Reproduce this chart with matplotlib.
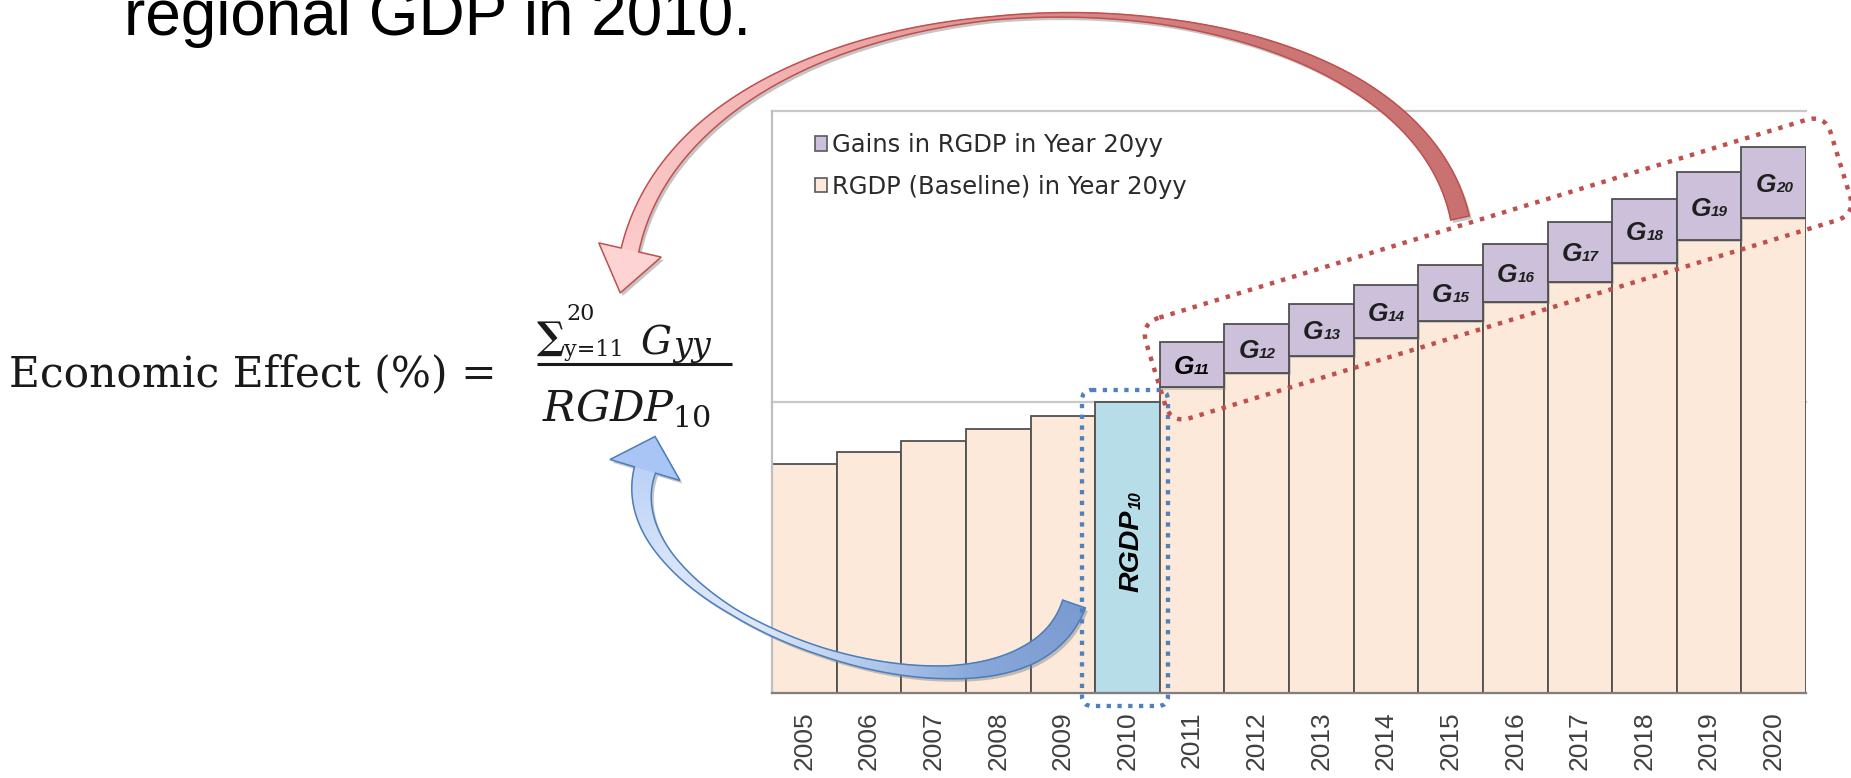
import numpy as np
import matplotlib
matplotlib.use("Agg")
import matplotlib.pyplot as plt
from matplotlib.patches import Patch, Polygon, FancyBboxPatch
from matplotlib.collections import PolyCollection
from matplotlib.colors import LinearSegmentedColormap
from matplotlib.transforms import Affine2D
import matplotlib.patheffects as pe

plt.rcParams['mathtext.fontset'] = 'dejavuserif'

# regional GDP, index with 2010 = 100
years = list(range(2005, 2021))
baseline_rgdp = [78.6, 82.7, 86.6, 90.8, 95.2, 100.0, 105.0, 110.1,
                 115.9, 121.9, 127.9, 134.5, 141.1, 147.9, 155.7, 163.1]
gain_years = list(range(2011, 2021))
gains_rgdp = [15.7, 16.7, 17.7, 18.3, 19.2, 19.7, 20.9, 22.0, 23.2, 24.6]
legend_labels = ['Gains in RGDP in Year 20yy', 'RGDP (Baseline) in Year 20yy']

BASE_COL = '#fde9d9'
GAIN_COL = '#ccc0da'
REF_COL = '#b7dde8'
EDGE_COL = '#505050'
SERIF = ['DejaVu Serif', 'DejaVu Sans']

W, H = 1851, 778
fig = plt.figure(figsize=(W / 100, H / 100), dpi=100)
fig.patch.set_facecolor('white')

# ---- bar chart ----
ax = fig.add_axes([772 / W, 85 / H, 1034 / W, 582 / H])
x = np.arange(len(years))
shadow = [pe.SimplePatchShadow(offset=(1.5, -1.5), shadow_rgbFace='#808080', alpha=0.35), pe.Normal()]
base_cols = [REF_COL if y == 2010 else BASE_COL for y in years]
ax.bar(x, baseline_rgdp, width=1.0, color=base_cols, edgecolor=EDGE_COL,
       linewidth=1.3, zorder=2, path_effects=shadow)
gx = np.array([years.index(y) for y in gain_years])
gbottom = [baseline_rgdp[i] for i in gx]
ax.bar(gx, gains_rgdp, bottom=gbottom, width=1.0, color=GAIN_COL,
       edgecolor=EDGE_COL, linewidth=1.3, zorder=2, path_effects=shadow)

ax.set_xlim(-0.5, len(years) - 0.5)
ax.set_ylim(0, 200)
ax.set_yticks([0, 100, 200])
ax.set_yticklabels([])
ax.yaxis.grid(True, color='#c8c8c8', linewidth=1.6)
for gl in ax.get_ygridlines():
    gl.set_clip_on(False)
ax.set_axisbelow(True)
ax.set_xticks(x)
ax.set_xticklabels([str(y) for y in years], rotation=90, fontsize=19,
                   color='#404040', family='Liberation Sans')
ax.tick_params(axis='both', length=0)
ax.tick_params(axis='x', pad=13.5)
for s in ['top', 'right']:
    ax.spines[s].set_visible(False)
ax.spines['left'].set_color('#bfbfbf')
ax.spines['left'].set_linewidth(1.6)
ax.spines['bottom'].set_color('#7f7f7f')
ax.spines['bottom'].set_linewidth(1.6)
ax.spines['bottom'].set_zorder(3)

# G_yy labels in the gain segments
for i, yr in enumerate(gain_years):
    xi = gx[i]
    ymid = gbottom[i] + gains_rgdp[i] / 2
    col = 'black' if i == 0 else '#1f1f1f'
    ax.annotate('G', (xi, ymid), xytext=(1.5, -6.8), textcoords='offset points',
                ha='right', va='baseline', fontsize=19, fontweight='bold',
                fontstyle='italic', family='Liberation Sans', color=col, zorder=4)
    ax.annotate(str(yr)[2:], (xi, ymid), xytext=(1.5, -6.8), textcoords='offset points',
                ha='left', va='baseline', fontsize=11, fontweight='bold',
                fontstyle='italic', family='Liberation Sans', color=col, zorder=4)

# RGDP_10 label inside the 2010 bar
i10 = years.index(2010)
ax.annotate('RGDP', (i10, baseline_rgdp[i10] / 2), xytext=(8.3, -32.0),
            textcoords='offset points', rotation=90, rotation_mode='anchor',
            ha='left', va='baseline', fontsize=20.5, fontweight='bold',
            fontstyle='italic', family='Liberation Sans', zorder=4)
ax.annotate('10', (i10, baseline_rgdp[i10] / 2), xytext=(9.8, 28.0),
            textcoords='offset points', rotation=90, rotation_mode='anchor',
            ha='left', va='baseline', fontsize=11.5, fontweight='bold',
            fontstyle='italic', family='Liberation Sans', zorder=4)

handles = [Patch(facecolor=GAIN_COL, edgecolor='#595959', linewidth=1.2),
           Patch(facecolor=BASE_COL, edgecolor='#595959', linewidth=1.2)]
leg = ax.legend(handles, legend_labels, loc='upper left', bbox_to_anchor=(0.0416, 0.962),
                frameon=False, prop={'family': 'DejaVu Sans', 'size': 17.5},
                handlelength=0.5, handleheight=0.55, handletextpad=0.2,
                labelspacing=0.72, borderpad=0, borderaxespad=0)
for t in leg.get_texts():
    t.set_color('#2b2b2b')

# ---- slide text ----
fig.text(124 / W, 1 - 35 / H, 'regional GDP in 2010.', fontsize=46,
         family='Liberation Sans', va='baseline')
fig.text(9 / W, 1 - 386 / H, 'Economic Effect (%) =', fontsize=30.5,
         family='DejaVu Serif', va='baseline', color='#1a1a1a')
fig.text(627 / W, 1 - 420 / H, r'$RGDP_{10}$', fontsize=31,
         ha='center', va='baseline', color='#1a1a1a')

# ---- overlay in pixel coordinates for formula parts, arrows and boxes ----
ov = fig.add_axes([0, 0, 1, 1])
ov.set_xlim(0, W)
ov.set_ylim(H, 0)
ov.axis('off')
ov.set_zorder(5)

# numerator: sum_{y=11}^{20} G_yy
ov.text(537, 349, '\u2211', fontsize=27, fontweight='bold', family=SERIF,
        va='baseline', color='#1a1a1a')
ov.text(566, 320, '20', fontsize=16, family=SERIF, va='baseline', color='#1a1a1a')
ov.text(564, 356, 'y=11', fontsize=16, family=SERIF, va='baseline', color='#1a1a1a')
ov.text(640, 354, 'G', fontsize=28, family=SERIF, style='italic', va='baseline', color='#1a1a1a')
ov.text(673, 356, 'yy', fontsize=24, family=SERIF, style='italic', va='baseline', color='#1a1a1a')
ov.plot([537, 732], [364, 364], color='#1a1a1a', lw=2.2, solid_capstyle='butt')


def bezier(p, t):
    mt = 1 - t
    return ((mt ** 3)[:, None] * p[0] + (3 * mt ** 2 * t)[:, None] * p[1]
            + (3 * mt * t ** 2)[:, None] * p[2] + (t ** 3)[:, None] * p[3])


def bezier_d(p, t):
    mt = 1 - t
    return ((3 * mt ** 2)[:, None] * (p[1] - p[0]) + (6 * mt * t)[:, None] * (p[2] - p[1])
            + (3 * t ** 2)[:, None] * (p[3] - p[2]))


def curved_arrow(axis, ctrl, w_t, w_v, head_w, head_len, stops, head_color, edge, n=300):
    ctrl = np.asarray(ctrl, float)
    t = np.linspace(0, 1, n)
    pts = bezier(ctrl, t)
    d = bezier_d(ctrl, t)
    d /= np.linalg.norm(d, axis=1)[:, None]
    nrm = np.column_stack([-d[:, 1], d[:, 0]])
    w = np.interp(t, w_t, w_v)[:, None] / 2
    left = pts + nrm * w
    right = pts - nrm * w
    tip = pts[-1] + d[-1] * head_len
    cl = pts[-1] + nrm[-1] * head_w / 2
    cr = pts[-1] - nrm[-1] * head_w / 2
    outline = np.vstack([left, cl, tip, cr, right[::-1]])
    axis.add_patch(Polygon(outline + [2.5, 3.0], closed=True, fc='#7f7f7f', ec='none', alpha=0.45))
    cmap = LinearSegmentedColormap.from_list('grad', stops)
    cols = cmap(t[:-1] + 0.5 / (n - 1))
    quads = [[left[i], left[i + 1], right[i + 1], right[i]] for i in range(n - 1)]
    axis.add_collection(PolyCollection(quads, facecolors=cols, edgecolors=cols, linewidths=0.6))
    axis.add_patch(Polygon([cl, tip, cr], closed=True, fc=head_color, ec='none'))
    axis.add_patch(Polygon(outline, closed=True, fill=False, ec=edge, lw=1.1, joinstyle='miter'))


# red arrow: gains box -> numerator
curved_arrow(ov, [(1460, 218), (1400, -58), (700, -58), (630, 250)],
             [0, 0.2, 0.4, 0.55, 0.7, 0.85, 1.0], [19, 14, 6, 3.5, 8, 14, 18],
             64, 44,
             [(0, '#c87170'), (0.3, '#cc7676'), (0.5, '#d98a8a'), (0.7, '#efaaaa'),
              (0.85, '#f7bebe'), (1, '#fbcaca')],
             '#fdd3d3', '#c0504d')

# blue arrow: 2010 bar -> denominator
curved_arrow(ov, [(1074, 604), (1020, 760), (600, 620), (645, 470)],
             [0, 0.15, 0.3, 0.5, 0.65, 0.8, 0.92, 1.0], [24, 20, 13, 8, 7, 12, 18, 22],
             73, 35,
             [(0, '#7b9bd1'), (0.25, '#87a6da'), (0.45, '#b7cdee'), (0.6, '#dce7f9'),
              (0.8, '#d7e4f9'), (1, '#bcd2f7')],
             '#a9c5f5', '#4a7ebb')

# dotted highlight boxes
ov.add_patch(FancyBboxPatch((1082, 390), 86, 316, boxstyle='round,pad=0,rounding_size=10',
                            fill=False, ec='#4f81bd', lw=3.1, ls=(0, (1, 1.5))))
cx, cy, L, Wd = 1498, 269, 716, 105
ov.add_patch(FancyBboxPatch((cx - L / 2, cy - Wd / 2), L, Wd,
                            boxstyle='round,pad=0,rounding_size=20',
                            fill=False, ec='#c0504d', lw=3.2, ls=(0, (1, 1.6)),
                            transform=Affine2D().rotate_deg_around(cx, cy, -17) + ov.transData))

fig.savefig('out.png', dpi=100, facecolor='white')
